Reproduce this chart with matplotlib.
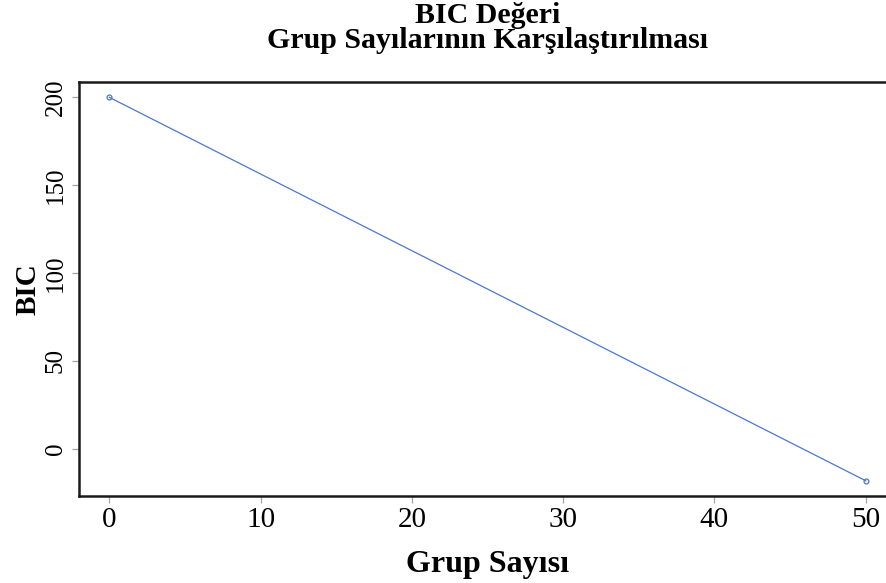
import matplotlib
matplotlib.use("Agg")
import matplotlib.pyplot as plt

# BIC values for each tested group count
group_counts = [0, 50]
bic_values = [200, -18.3]

x_ticks = [0, 10, 20, 30, 40, 50]
y_ticks = [0, 50, 100, 150, 200]

title_lines = ['BIC Değeri', 'Grup Sayılarının Karşılaştırılması']

plt.rcParams['font.family'] = ['Liberation Serif', 'DejaVu Serif']

W, H = 887, 583
fig = plt.figure(figsize=(W / 100, H / 100), dpi=100)
fig.patch.set_facecolor('white')
ax = fig.add_axes([0.0891, 0.1492, 0.921, 0.7101])

ax.plot(group_counts, bic_values, color='#4a78d0', linewidth=0.9,
        marker='o', markersize=3.5, markerfacecolor='none',
        markeredgecolor='#4a78d0', markeredgewidth=0.9)

ax.set_xlim(-2, 52)
ax.set_ylim(-27.0, 208.7)
ax.set_xticks(x_ticks)
ax.set_yticks(y_ticks)
ax.set_xticklabels([str(v) for v in x_ticks], fontsize=21)
ax.set_yticklabels([str(v) for v in y_ticks], fontsize=18, rotation=90, va='center')

ax.tick_params(axis='both', length=5, width=0.9, color='#9aa79a')
ax.tick_params(axis='x', pad=3)
ax.tick_params(axis='y', pad=4)
for side in ['left', 'bottom', 'top']:
    ax.spines[side].set_linewidth(1.8)
    ax.spines[side].set_color('#1a1a1a')
ax.spines['right'].set_visible(False)

ax.set_xlabel('Grup Sayısı', fontsize=23, fontweight='bold', labelpad=12)
ax.set_ylabel('BIC', fontsize=21, fontweight='bold', labelpad=2)

# two-line title centred over the plotting area
title_x = (79 + 896) / 2 / W
fig.text(title_x, 1 - 23 / H, title_lines[0], ha='center', va='baseline',
         fontsize=21.5, fontweight='bold')
fig.text(title_x, 1 - 48 / H, title_lines[1], ha='center', va='baseline',
         fontsize=21.5, fontweight='bold')

fig.savefig('out.png', dpi=100, facecolor='white')
